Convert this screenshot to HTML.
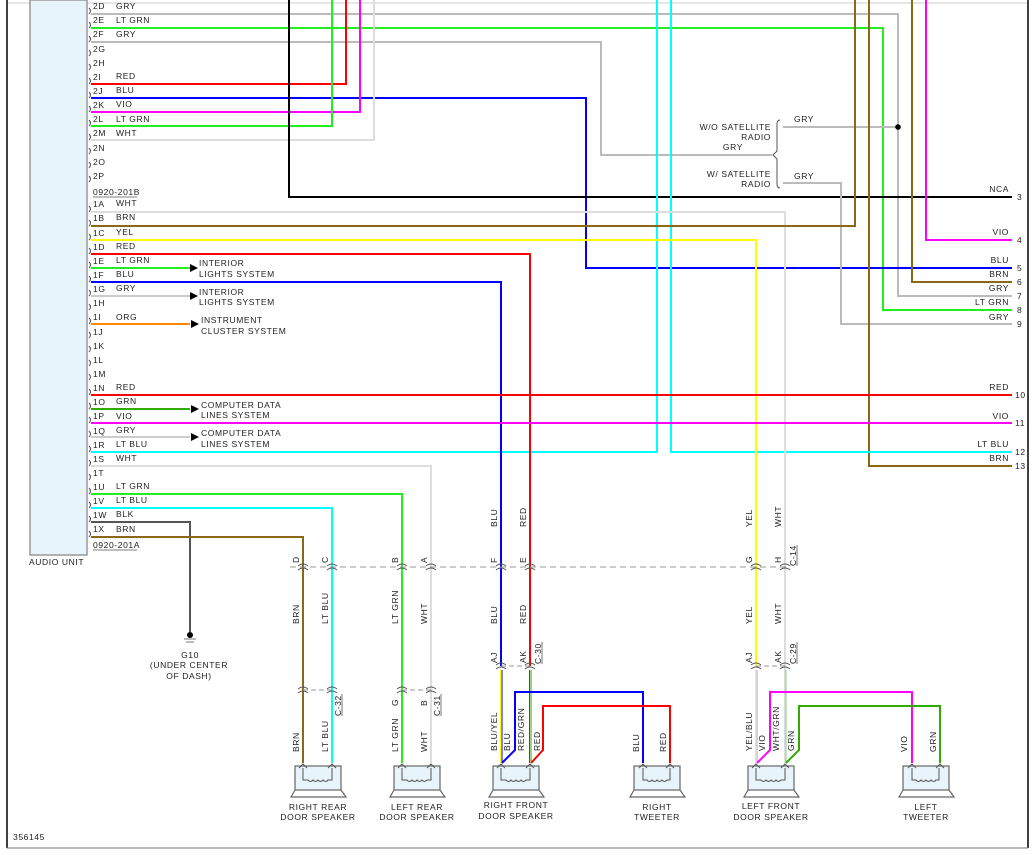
<!DOCTYPE html>
<html><head><meta charset="utf-8"><style>
html,body{margin:0;padding:0;background:#fff;width:1035px;height:855px;overflow:hidden}
svg{display:block}
text{font-family:"Liberation Sans",Arial,sans-serif;font-size:8.5px;fill:#222;letter-spacing:0.6px}
.w{fill:none;stroke-width:2}
</style></head><body>
<svg width="1035" height="855" viewBox="0 0 1035 855" xmlns="http://www.w3.org/2000/svg">
<line x1="7" y1="3" x2="1028" y2="3" stroke="#ccc" stroke-width="1"/>
<line x1="7" y1="0" x2="7" y2="848" stroke="#000" stroke-width="1.5"/>
<line x1="1028" y1="0" x2="1028" y2="848" stroke="#000" stroke-width="1.5"/>
<line x1="7" y1="848" x2="1028" y2="848" stroke="#777" stroke-width="1"/>
<rect x="30" y="0" width="57" height="555" fill="#e8f4fb" stroke="#999" stroke-width="1.5"/>
<text x="29" y="565">AUDIO UNIT</text>

<g fill="none" stroke="#444" stroke-width="0.9">
<path d="M89,8 q3,3 0,6 M89,22 q3,3 0,6 M89,36 q3,3 0,6 M89,50 q3,3 0,6 M89,64 q3,3 0,6 M89,78 q3,3 0,6 M89,92 q3,3 0,6 M89,106 q3,3 0,6 M89,120 q3,3 0,6 M89,134 q3,3 0,6 M89,148 q3,3 0,6 M89,162 q3,3 0,6 M89,176 q3,3 0,6 M89,206 q3,3 0,6 M89,220 q3,3 0,6 M89,234 q3,3 0,6 M89,248 q3,3 0,6 M89,262 q3,3 0,6 M89,276 q3,3 0,6 M89,290 q3,3 0,6 M89,304 q3,3 0,6 M89,318 q3,3 0,6 M89,332 q3,3 0,6 M89,346 q3,3 0,6 M89,360 q3,3 0,6 M89,374 q3,3 0,6 M89,389 q3,3 0,6 M89,403 q3,3 0,6 M89,417 q3,3 0,6 M89,431 q3,3 0,6 M89,446 q3,3 0,6 M89,460 q3,3 0,6 M89,474 q3,3 0,6 M89,488 q3,3 0,6 M89,502 q3,3 0,6 M89,516 q3,3 0,6 M89,531 q3,3 0,6"/>
</g>

<g class="w">
<polyline points="91,14 898,14 898,296 1012,296" stroke="#bbb"/>
<polyline points="91,28 883,28 883,310 1012,310" stroke="#22ee22"/>
<polyline points="91,42 601,42 601,155 772,155" stroke="#bbb"/>
<polyline points="91,84 346,84 346,0" stroke="#ff0000"/>
<polyline points="91,98 586,98 586,268 1012,268" stroke="#0000ff"/>
<polyline points="91,112 360,112 360,0" stroke="#ff00ff"/>
<polyline points="91,126 332,126 332,0" stroke="#22ee22"/>
<polyline points="91,140 374,140 374,0" stroke="#ddd"/>
<polyline points="289,0 289,197 1012,197" stroke="#000"/>
<polyline points="783,127 898,127" stroke="#bbb"/>
<polyline points="783,183 841,183 841,324 1012,324" stroke="#bbb"/>
<polyline points="926,0 926,240 1012,240" stroke="#ff00ff"/>
<polyline points="912,0 912,282 1012,282" stroke="#8b6914"/>
<polyline points="869,0 869,466 1012,466" stroke="#8b6914"/>
<polyline points="671,0 671,452 1012,452" stroke="#00ffff"/>
<polyline points="91,452 657,452 657,0" stroke="#00ffff"/>
<polyline points="91,212 785,212 785,763" stroke="#ddd"/>
<polyline points="91,226 855,226 855,0" stroke="#8b6914"/>
<polyline points="91,240 756,240 756,666" stroke="#ffff00"/>
<polyline points="91,254 530,254 530,666" stroke="#ff0000"/>
<polyline points="91,268 190,268" stroke="#22ee22"/>
<polyline points="91,282 501,282 501,666" stroke="#0000ff"/>
<polyline points="91,296 190,296" stroke="#ccc"/>
<polyline points="91,324 190,324" stroke="#ff8800"/>
<polyline points="91,395 1012,395" stroke="#ff0000"/>
<polyline points="91,409 190,409" stroke="#33aa00"/>
<polyline points="91,423 1012,423" stroke="#ff00ff"/>
<polyline points="91,437 190,437" stroke="#ccc"/>
<polyline points="91,466 431,466 431,763" stroke="#ddd"/>
<polyline points="91,494 402,494 402,763" stroke="#22ee22"/>
<polyline points="91,508 332,508 332,763" stroke="#00ffff"/>
<polyline points="91,522 190,522 190,632" stroke="#555"/>
<polyline points="91,537 303,537 303,763" stroke="#8b6914"/>
<line x1="500.5" y1="670" x2="500.5" y2="763" stroke="#ffff00" stroke-width="1"/>
<line x1="502" y1="670" x2="502" y2="763" stroke="#0000ff" stroke-width="1"/>
<line x1="529.5" y1="670" x2="529.5" y2="763" stroke="#ff0000" stroke-width="1"/>
<line x1="531" y1="670" x2="531" y2="763" stroke="#33aa00" stroke-width="1"/>
<polyline points="643,763 643,692 515,692 515,750 502,763" stroke="#0000ff"/>
<polyline points="670,763 670,706 543,706 543,750 531,763" stroke="#ff0000"/>
<line x1="755.5" y1="670" x2="755.5" y2="763" stroke="#ffff00" stroke-width="1"/>
<line x1="757" y1="670" x2="757" y2="763" stroke="#aaa" stroke-width="1"/>
<line x1="784.5" y1="670" x2="784.5" y2="763" stroke="#ddd" stroke-width="1"/>
<line x1="786" y1="670" x2="786" y2="763" stroke="#8c8" stroke-width="1"/>
<polyline points="912,763 912,692 770,692 770,750 757,763" stroke="#ff00ff"/>
<polyline points="940,763 940,706 799,706 799,750 786,763" stroke="#33aa00"/>
</g>
<circle cx="898" cy="127" r="2.8" fill="#000"/>
<path d="M780,120 q-3,0 -3,4 v27 l-4,4 l4,4 v25 q0,4 3,4" fill="none" stroke="#555" stroke-width="1"/>
<g fill="#000">
<polygon points="190,264 198,268 190,272"/>
<polygon points="190,292 198,296 190,300"/>
<polygon points="191,320 199,324 191,328"/>
<polygon points="191,405 199,409 191,413"/>
<polygon points="191,433 199,437 191,441"/>
</g>
<text x="199" y="266">INTERIOR</text><text x="199" y="277">LIGHTS SYSTEM</text>
<text x="199" y="295">INTERIOR</text><text x="199" y="305">LIGHTS SYSTEM</text>
<text x="201" y="323">INSTRUMENT</text><text x="201" y="334">CLUSTER SYSTEM</text>
<text x="201" y="408">COMPUTER DATA</text><text x="201" y="418">LINES SYSTEM</text>
<text x="201" y="436">COMPUTER DATA</text><text x="201" y="447">LINES SYSTEM</text>

<g>
<text x="93" y="9">2D</text><text x="116" y="9">GRY</text>
<text x="93" y="23">2E</text><text x="116" y="23">LT GRN</text>
<text x="93" y="37">2F</text><text x="116" y="37">GRY</text>
<text x="93" y="52">2G</text>
<text x="93" y="66">2H</text>
<text x="93" y="80">2I</text><text x="116" y="79">RED</text>
<text x="93" y="94">2J</text><text x="116" y="93">BLU</text>
<text x="93" y="108">2K</text><text x="116" y="107">VIO</text>
<text x="93" y="122">2L</text><text x="116" y="122">LT GRN</text>
<text x="93" y="136">2M</text><text x="116" y="136">WHT</text>
<text x="93" y="151">2N</text>
<text x="93" y="165">2O</text>
<text x="93" y="179">2P</text>
<text x="93" y="195">0920-201B</text>
<text x="93" y="207">1A</text><text x="116" y="206">WHT</text>
<text x="93" y="221">1B</text><text x="116" y="220">BRN</text>
<text x="93" y="236">1C</text><text x="116" y="235">YEL</text>
<text x="93" y="250">1D</text><text x="116" y="249">RED</text>
<text x="93" y="264">1E</text><text x="116" y="263">LT GRN</text>
<text x="93" y="278">1F</text><text x="116" y="277">BLU</text>
<text x="93" y="292">1G</text><text x="116" y="291">GRY</text>
<text x="93" y="306">1H</text>
<text x="93" y="320">1I</text><text x="116" y="320">ORG</text>
<text x="93" y="335">1J</text>
<text x="93" y="349">1K</text>
<text x="93" y="363">1L</text>
<text x="93" y="377">1M</text>
<text x="93" y="391">1N</text><text x="116" y="390">RED</text>
<text x="93" y="405">1O</text><text x="116" y="404">GRN</text>
<text x="93" y="419">1P</text><text x="116" y="419">VIO</text>
<text x="93" y="434">1Q</text><text x="116" y="433">GRY</text>
<text x="93" y="448">1R</text><text x="116" y="447">LT BLU</text>
<text x="93" y="462">1S</text><text x="116" y="461">WHT</text>
<text x="93" y="476">1T</text>
<text x="93" y="490">1U</text><text x="116" y="489">LT GRN</text>
<text x="93" y="504">1V</text><text x="116" y="503">LT BLU</text>
<text x="93" y="518">1W</text><text x="116" y="517">BLK</text>
<text x="93" y="532">1X</text><text x="116" y="532">BRN</text>
<text x="93" y="548">0920-201A</text>
</g>
<line x1="93" y1="197" x2="137" y2="197" stroke="#555" stroke-width="0.8"/>
<line x1="93" y1="550" x2="137" y2="550" stroke="#555" stroke-width="0.8"/>

<text x="771" y="130" text-anchor="end">W/O SATELLITE</text>
<text x="771" y="140" text-anchor="end">RADIO</text>
<text x="743" y="150" text-anchor="end">GRY</text>
<text x="771" y="177" text-anchor="end">W/ SATELLITE</text>
<text x="771" y="187" text-anchor="end">RADIO</text>
<text x="794" y="122">GRY</text>
<text x="794" y="179">GRY</text>

<g text-anchor="end">
<text x="1009" y="192">NCA</text>
<text x="1009" y="235">VIO</text>
<text x="1009" y="263">BLU</text>
<text x="1009" y="277">BRN</text>
<text x="1009" y="291">GRY</text>
<text x="1009" y="305">LT GRN</text>
<text x="1009" y="320">GRY</text>
<text x="1009" y="390">RED</text>
<text x="1009" y="419">VIO</text>
<text x="1009" y="447">LT BLU</text>
<text x="1009" y="461">BRN</text>
</g>
<g>
<text x="1017" y="200">3</text><text x="1017" y="243">4</text><text x="1017" y="271">5</text>
<text x="1017" y="285">6</text><text x="1017" y="299">7</text><text x="1017" y="313">8</text>
<text x="1017" y="327">9</text><text x="1015" y="398">10</text><text x="1015" y="426">11</text>
<text x="1015" y="455">12</text><text x="1015" y="469">13</text>
</g>

<line x1="290" y1="567" x2="790" y2="567" stroke="#999" stroke-width="1" stroke-dasharray="6,4"/>
<line x1="303" y1="690" x2="332" y2="690" stroke="#999" stroke-width="1" stroke-dasharray="5,3"/>
<line x1="402" y1="690" x2="431" y2="690" stroke="#999" stroke-width="1" stroke-dasharray="5,3"/>
<line x1="501" y1="666" x2="530" y2="666" stroke="#999" stroke-width="1" stroke-dasharray="5,3"/>
<line x1="756" y1="666" x2="785" y2="666" stroke="#999" stroke-width="1" stroke-dasharray="5,3"/>
<g fill="none" stroke="#555" stroke-width="1">
<path d="M298,566 q5,-4 10,0 M298,570 q5,-4 10,0"/>
<path d="M327,566 q5,-4 10,0 M327,570 q5,-4 10,0"/>
<path d="M397,566 q5,-4 10,0 M397,570 q5,-4 10,0"/>
<path d="M426,566 q5,-4 10,0 M426,570 q5,-4 10,0"/>
<path d="M496,566 q5,-4 10,0 M496,570 q5,-4 10,0"/>
<path d="M525,566 q5,-4 10,0 M525,570 q5,-4 10,0"/>
<path d="M751,566 q5,-4 10,0 M751,570 q5,-4 10,0"/>
<path d="M780,566 q5,-4 10,0 M780,570 q5,-4 10,0"/>
<path d="M298,689 q5,-4 10,0 M298,693 q5,-4 10,0"/>
<path d="M327,689 q5,-4 10,0 M327,693 q5,-4 10,0"/>
<path d="M397,689 q5,-4 10,0 M397,693 q5,-4 10,0"/>
<path d="M426,689 q5,-4 10,0 M426,693 q5,-4 10,0"/>
<path d="M496,665 q5,-4 10,0 M496,669 q5,-4 10,0"/>
<path d="M525,665 q5,-4 10,0 M525,669 q5,-4 10,0"/>
<path d="M751,665 q5,-4 10,0 M751,669 q5,-4 10,0"/>
<path d="M780,665 q5,-4 10,0 M780,669 q5,-4 10,0"/>
</g>

<g>
<text transform="translate(299,563) rotate(-90)">D</text>
<text transform="translate(328,563) rotate(-90)">C</text>
<text transform="translate(398,563) rotate(-90)">B</text>
<text transform="translate(427,563) rotate(-90)">A</text>
<text transform="translate(497,563) rotate(-90)">F</text>
<text transform="translate(526,563) rotate(-90)">E</text>
<text transform="translate(752,563) rotate(-90)">G</text>
<text transform="translate(781,563) rotate(-90)">H</text>
<text transform="translate(796,566) rotate(-90)">C-14</text>
<text transform="translate(497,527) rotate(-90)">BLU</text>
<text transform="translate(526,527) rotate(-90)">RED</text>
<text transform="translate(752,527) rotate(-90)">YEL</text>
<text transform="translate(781,527) rotate(-90)">WHT</text>
<text transform="translate(299,624) rotate(-90)">BRN</text>
<text transform="translate(328,624) rotate(-90)">LT BLU</text>
<text transform="translate(398,624) rotate(-90)">LT GRN</text>
<text transform="translate(427,624) rotate(-90)">WHT</text>
<text transform="translate(497,624) rotate(-90)">BLU</text>
<text transform="translate(526,624) rotate(-90)">RED</text>
<text transform="translate(752,624) rotate(-90)">YEL</text>
<text transform="translate(781,624) rotate(-90)">WHT</text>
<text transform="translate(497,663) rotate(-90)">AJ</text>
<text transform="translate(526,663) rotate(-90)">AK</text>
<text transform="translate(541,664) rotate(-90)">C-30</text>
<text transform="translate(752,663) rotate(-90)">AJ</text>
<text transform="translate(781,663) rotate(-90)">AK</text>
<text transform="translate(796,664) rotate(-90)">C-29</text>
<text transform="translate(341,716) rotate(-90)">C-32</text>
<text transform="translate(440,716) rotate(-90)">C-31</text>
<text transform="translate(398,706) rotate(-90)">G</text>
<text transform="translate(427,706) rotate(-90)">B</text>
<text transform="translate(299,752) rotate(-90)">BRN</text>
<text transform="translate(328,752) rotate(-90)">LT BLU</text>
<text transform="translate(398,752) rotate(-90)">LT GRN</text>
<text transform="translate(427,752) rotate(-90)">WHT</text>
<text transform="translate(497,751) rotate(-90)">BLU/YEL</text>
<text transform="translate(510,751) rotate(-90)">BLU</text>
<text transform="translate(524,751) rotate(-90)">RED/GRN</text>
<text transform="translate(540,751) rotate(-90)">RED</text>
<text transform="translate(639,752) rotate(-90)">BLU</text>
<text transform="translate(666,752) rotate(-90)">RED</text>
<text transform="translate(752,751) rotate(-90)">YEL/BLU</text>
<text transform="translate(765,751) rotate(-90)">VIO</text>
<text transform="translate(779,751) rotate(-90)">WHT/GRN</text>
<text transform="translate(794,751) rotate(-90)">GRN</text>
<text transform="translate(907,752) rotate(-90)">VIO</text>
<text transform="translate(936,752) rotate(-90)">GRN</text>
</g>
<g stroke="#555" stroke-width="0.8">
<line x1="797" y1="545" x2="797" y2="566"/>
<line x1="542" y1="642" x2="542" y2="664"/>
<line x1="797" y1="642" x2="797" y2="664"/>
<line x1="342" y1="694" x2="342" y2="716"/>
<line x1="441" y1="694" x2="441" y2="716"/>
</g>

<circle cx="190" cy="635" r="3" fill="#000"/>
<line x1="184" y1="639" x2="196" y2="639" stroke="#777" stroke-width="1"/>
<line x1="186" y1="642" x2="194" y2="642" stroke="#777" stroke-width="1"/>
<text x="190" y="658" text-anchor="middle">G10</text>
<text x="189" y="668" text-anchor="middle">(UNDER CENTER</text>
<text x="189" y="679" text-anchor="middle">OF DASH)</text>

<g fill="#e8f4fb" stroke="#666" stroke-width="1.2">
<rect x="295" y="766" width="46" height="24"/><path d="M295,790 L291,797 L346,797 L341,790" fill="none"/>
<rect x="394" y="766" width="46" height="24"/><path d="M394,790 L390,797 L445,797 L440,790" fill="none"/>
<rect x="493" y="766" width="46" height="24"/><path d="M493,790 L489,797 L544,797 L539,790" fill="none"/>
<rect x="634" y="766" width="46" height="24"/><path d="M634,790 L630,797 L685,797 L680,790" fill="none"/>
<rect x="748" y="766" width="46" height="24"/><path d="M748,790 L744,797 L799,797 L794,790" fill="none"/>
<rect x="903" y="766" width="46" height="24"/><path d="M903,790 L899,797 L954,797 L949,790" fill="none"/>
</g>
<g fill="none" stroke="#555" stroke-width="1">
<path d="M303,768 v12 h5 q2.5,3 5,0 q2.5,3 5,0 q2.5,3 5,0 q2.5,3 5,0 h4 v-12 M299,768 l4,-4 l4,4 M328,768 l4,-4 l4,4"/>
<path d="M402,768 v12 h5 q2.5,3 5,0 q2.5,3 5,0 q2.5,3 5,0 q2.5,3 5,0 h4 v-12 M398,768 l4,-4 l4,4 M427,768 l4,-4 l4,4"/>
<path d="M501,768 v12 h5 q2.5,3 5,0 q2.5,3 5,0 q2.5,3 5,0 q2.5,3 5,0 h4 v-12 M497,768 l4,-4 l4,4 M526,768 l4,-4 l4,4"/>
<path d="M643,768 v12 h4 q2.5,3 5,0 q2.5,3 5,0 q2.5,3 5,0 q2.5,3 5,0 h3 v-12 M639,768 l4,-4 l4,4 M666,768 l4,-4 l4,4"/>
<path d="M756,768 v12 h5 q2.5,3 5,0 q2.5,3 5,0 q2.5,3 5,0 q2.5,3 5,0 h4 v-12 M752,768 l4,-4 l4,4 M781,768 l4,-4 l4,4"/>
<path d="M912,768 v12 h4 q2.5,3 5,0 q2.5,3 5,0 q2.5,3 5,0 q2.5,3 5,0 h3 v-12 M908,768 l4,-4 l4,4 M936,768 l4,-4 l4,4"/>
</g>
<g text-anchor="middle">
<text x="318" y="810">RIGHT REAR</text><text x="318" y="820">DOOR SPEAKER</text>
<text x="417" y="810">LEFT REAR</text><text x="417" y="820">DOOR SPEAKER</text>
<text x="516" y="808">RIGHT FRONT</text><text x="516" y="819">DOOR SPEAKER</text>
<text x="657" y="810">RIGHT</text><text x="657" y="820">TWEETER</text>
<text x="771" y="809">LEFT FRONT</text><text x="771" y="820">DOOR SPEAKER</text>
<text x="926" y="810">LEFT</text><text x="926" y="820">TWEETER</text>
</g>
<text x="13" y="840">356145</text>
</svg>
</body></html>
